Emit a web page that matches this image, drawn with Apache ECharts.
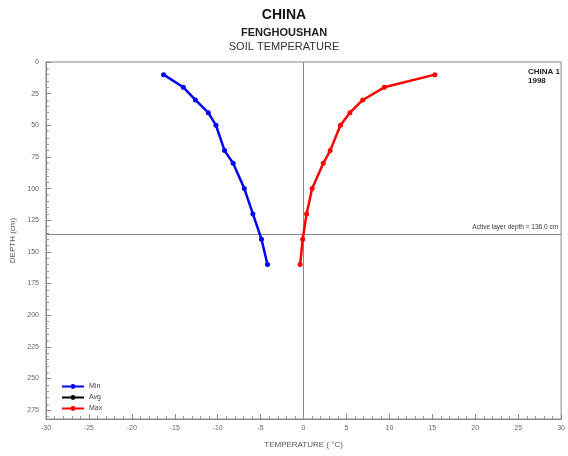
<!DOCTYPE html>
<html><head><meta charset="utf-8">
<script src="https://cdn.jsdelivr.net/npm/echarts@6/dist/echarts.min.js"></script>
<style>html,body{margin:0;padding:0;background:#fff}#c{width:568px;height:456px}</style>
</head><body><div id="c"></div>
<script>
const depths = [10, 20, 30, 40, 50, 70, 80, 100, 120, 140, 160];
const minTemp = [-16.3, -14.0, -12.6, -11.1, -10.2, -9.2, -8.2, -6.9, -5.9, -4.9, -4.2];
const avgTemp = [];
const maxTemp = [15.3, 9.4, 6.9, 5.4, 4.3, 3.1, 2.3, 1.0, 0.35, -0.1, -0.4];
const activeLayerDepth = 136.0;
const xTicks = [-30, -25, -20, -15, -10, -5, 0, 5, 10, 15, 20, 25, 30];
const yTicks = [0, 25, 50, 75, 100, 125, 150, 175, 200, 225, 250, 275];

const pairs = (t) => t.map((v, i) => [v, depths[i]]);
const chart = echarts.init(document.getElementById('c'), null, {renderer: 'canvas'});
const F = 'Liberation Sans, Arial, sans-serif';
function ser(name, color, data) {
  return {
    name, type: 'line', data: pairs(data), symbol: 'circle', symbolSize: 5,
    lineStyle: {color, width: 2.5}, itemStyle: {color}, z: 5, animation: false
  };
}
chart.setOption({
  animation: false,
  title: [
    {text: 'CHINA', left: 'center', top: 3, textStyle: {fontFamily: F, fontSize: 14, fontWeight: 'bold', color: '#111'}},
    {text: 'FENGHOUSHAN', left: 'center', top: 22, textStyle: {fontFamily: F, fontSize: 11, fontWeight: 'bold', color: '#222'}},
    {text: 'SOIL TEMPERATURE', left: 'center', top: 36, textStyle: {fontFamily: F, fontSize: 11, fontWeight: 'normal', color: '#333'}}
  ],
  legend: {
    orient: 'vertical', left: 56, top: 378, itemWidth: 22, itemHeight: 6, itemGap: 4,
    textStyle: {fontFamily: F, fontSize: 7, color: '#444'},
    data: ['Min', 'Avg', 'Max']
  },
  grid: {left: 46, top: 62, right: 2, bottom: 37, show: true, borderColor: '#888', borderWidth: 1},
  graphic: [
    {type: 'text', right: 8, top: 67, style: {text: 'CHINA 1\n1998', font: 'bold 8px ' + F, fill: '#222', lineHeight: 9}}
  ],
  xAxis: {
    type: 'value', min: xTicks[0], max: xTicks[xTicks.length - 1], interval: 5,
    name: 'TEMPERATURE ( \u00B0C)', nameLocation: 'middle', nameGap: 22,
    nameTextStyle: {fontFamily: F, fontSize: 8, color: '#555'},
    axisLine: {onZero: false, lineStyle: {color: '#888'}},
    axisTick: {inside: true, length: 5, lineStyle: {color: '#888'}},
    minorTick: {show: true, splitNumber: 5, length: 3, lineStyle: {color: '#999'}},
    axisLabel: {fontFamily: F, fontSize: 7, color: '#666', margin: 6},
    splitLine: {show: false}
  },
  yAxis: {
    type: 'value', inverse: true, min: 0, max: 282, interval: 25,
    name: 'DEPTH (cm)', nameLocation: 'middle', nameGap: 27,
    nameTextStyle: {fontFamily: F, fontSize: 8, color: '#555'},
    axisLine: {onZero: false, lineStyle: {color: '#888'}},
    axisTick: {inside: true, length: 5, lineStyle: {color: '#888'}},
    minorTick: {show: true, splitNumber: 5, length: 3, lineStyle: {color: '#999'}},
    axisLabel: {fontFamily: F, fontSize: 7, color: '#666', margin: 7,
      formatter: v => (yTicks.indexOf(v) >= 0 ? String(v) : '')},
    splitLine: {show: false}
  },
  series: [
    ser('Min', '#0000ff', minTemp),
    ser('Avg', '#000000', avgTemp),
    ser('Max', '#ff0000', maxTemp),
    {
      type: 'line', data: [], silent: true, animation: false,
      markLine: {
        symbol: 'none', silent: true, animation: false,
        lineStyle: {color: '#888', width: 1, type: 'solid'},
        data: [
          {xAxis: 0, label: {show: false}},
          {yAxis: activeLayerDepth, label: {show: true, position: 'insideEndTop',
            formatter: 'Active layer depth = ' + activeLayerDepth.toFixed(1) + ' cm',
            fontFamily: F, fontSize: 6.5, color: '#333', distance: 3}}
        ]
      }
    }
  ]
});
</script></body></html>
